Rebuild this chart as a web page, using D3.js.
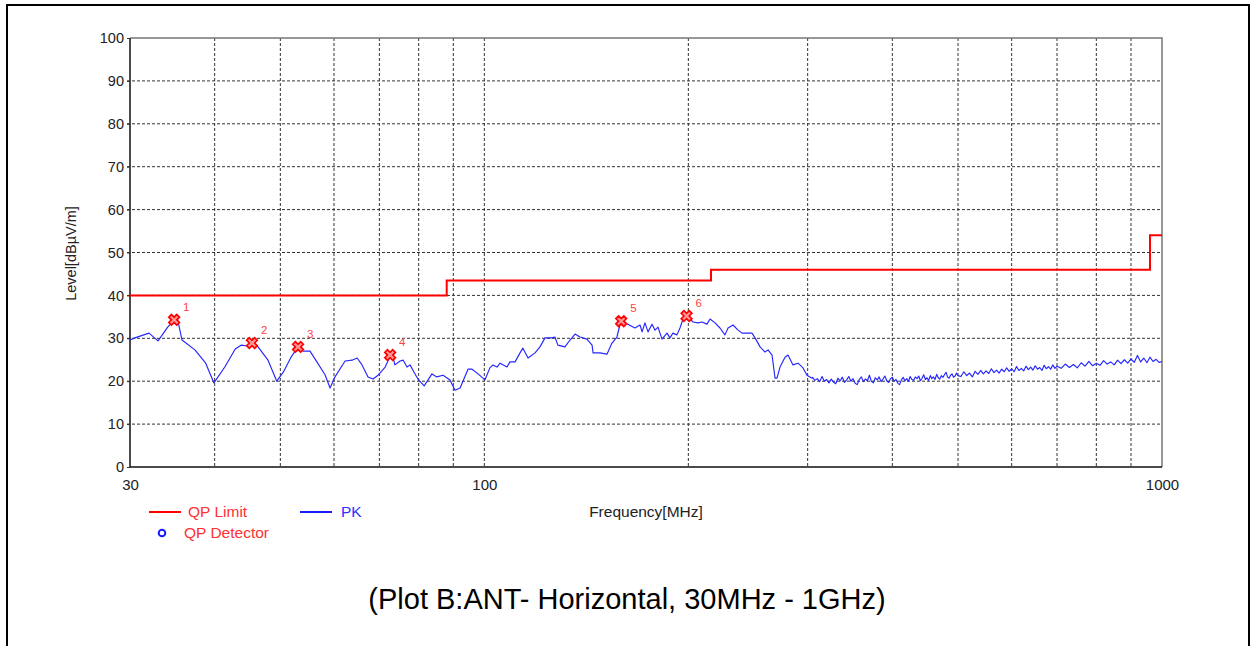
<!DOCTYPE html>
<html>
<head>
<meta charset="utf-8">
<script src="https://cdn.jsdelivr.net/npm/d3@7"></script>
<style>
  body { margin: 0; background: #fff; }
  svg { display: block; font-family: Arial, "Liberation Sans", sans-serif; }
</style>
</head>
<body>
<div id="chart"></div>
<script>
// QP limit steps [start MHz, end MHz, level dBuV/m]
const limitSteps = [
  [30, 88, 40],
  [88, 216, 43.5],
  [216, 960, 46],
  [960, 1000, 54],
];

// peak trace, [MHz, dBuV/m]
const pkTrace = [
  [30.0, 29.6], [30.5, 30.1], [32.0, 31.2], [33.0, 29.4], [34.1, 32.6], [34.9, 34.3], [35.2, 35.0],
  [35.8, 29.6], [37.4, 27.3], [38.8, 24.2], [39.9, 19.6], [41.4, 23.3], [42.9, 27.5], [43.75, 28.4],
  [44.8, 28.2], [45.6, 28.9], [46.35, 28.0], [47.95, 24.9], [49.4, 20.0], [50.5, 22.1], [51.85, 25.6],
  [53.1, 28.0], [54.0, 27.0], [55.3, 27.0], [56.4, 24.9], [58.2, 21.5], [59.2, 18.4], [60.2, 21.0],
  [62.3, 24.7], [63.8, 24.9], [64.9, 25.4], [66.0, 23.8], [67.35, 21.0], [68.5, 20.5], [69.7, 21.4],
  [71.4, 23.3], [72.6, 25.8], [73.1, 26.4], [73.8, 23.8], [75.1, 24.7], [75.9, 24.9], [76.9, 23.3],
  [77.7, 23.8], [78.75, 22.1], [79.8, 20.5], [81.5, 18.9], [83.7, 21.7], [85.1, 21.0], [86.9, 21.4],
  [89.0, 20.3], [90.5, 17.9], [92.1, 18.4], [94.6, 22.8], [95.9, 22.8], [97.9, 21.7], [100.2, 20.3],
  [101.9, 23.1], [103.0, 23.8], [104.4, 23.3], [105.5, 24.2], [108.0, 23.3], [109.1, 24.5], [111.0, 24.5],
  [112.9, 26.6], [114.0, 27.7], [116.0, 25.4], [118.8, 26.6], [120.8, 28.0], [122.9, 30.1], [125.8, 30.1],
  [127.1, 30.3], [128.4, 28.4], [131.5, 28.0], [133.8, 29.6], [136.1, 31.0], [138.4, 30.3], [141.7, 29.8],
  [144.2, 28.4], [144.7, 26.6], [148.1, 26.6], [151.7, 26.3], [154.3, 28.9], [156.9, 30.3], [158.5, 33.1],
  [159.6, 34.0], [162.9, 33.3], [166.8, 32.4], [169.7, 33.1], [170.9, 31.5], [172.6, 33.6], [174.4, 31.5],
  [176.8, 33.3], [178.6, 31.9], [180.4, 32.6], [182.9, 29.8], [186.0, 31.2], [187.9, 30.1], [189.8, 31.2],
  [192.4, 30.8], [194.4, 32.4], [196.4, 34.5], [199.1, 35.2], [201.1, 34.5], [203.2, 33.8], [206.7, 33.6],
  [209.5, 33.8], [213.1, 33.3], [215.3, 34.5], [219.0, 33.6], [222.7, 32.4], [226.5, 30.8], [228.9, 32.4],
  [232.8, 33.1], [236.8, 31.9], [240.0, 31.2], [248.3, 31.2], [250.9, 30.1], [255.2, 28.0], [259.5, 26.8],
  [262.2, 27.3], [265.8, 26.1], [268.5, 20.7], [270.3, 20.7], [273.1, 23.3], [277.8, 25.6], [280.6, 26.1],
  [285.4, 23.8], [290.3, 24.2], [295.3, 23.1], [299.3, 21.4], [304.5, 20.7],
  [305, 20.9], [307.5, 20.2], [310, 20.6], [312.5, 19.9], [315, 21.1], [317.5, 20.0], [320, 20.4], [322.5, 19.6],
  [325, 20.5], [327.5, 19.8], [330, 19.4], [332.5, 20.7], [335, 20.1], [337.5, 20.9], [340, 19.7], [342.5, 20.3],
  [345, 21.1], [347.5, 20.0], [350, 20.6], [352.5, 19.5], [355, 19.2], [357.5, 20.4], [360, 21.0], [362.5, 19.9],
  [365, 20.5], [367.5, 20.1], [370, 21.4], [372.5, 20.0], [375, 19.6], [377.5, 20.8], [380, 20.3], [382.5, 21.0],
  [385, 19.9], [387.5, 20.5], [390, 21.2], [392.5, 20.1], [395, 19.7], [397.5, 20.6], [400, 20.9], [402.5, 20.0],
  [405, 20.4], [407.5, 19.5], [410, 19.2], [412.5, 20.3], [415, 20.9], [417.5, 20.1], [420, 20.6], [422.5, 20.0],
  [425, 21.1], [427.5, 20.4], [430, 20.2], [432.5, 21.0], [435, 20.6], [437.5, 21.2], [440, 20.1], [442.5, 20.7],
  [445, 21.5], [447.5, 20.4], [450, 20.8], [452.5, 20.2], [455, 21.3], [457.5, 20.6], [460, 21.0], [462.5, 20.4],
  [465, 21.6], [467.5, 20.8], [470, 20.5], [472.5, 21.3], [475, 20.9], [477.5, 21.5], [480, 22.1], [482.5, 21.0],
  [485, 20.7], [487.5, 21.4], [490, 21.7], [492.5, 20.9], [495, 21.2], [497.5, 21.9], [500, 21.3],
  [505, 21.1], [510, 22.2], [515, 21.3], [520, 21.9], [525, 21.0], [530, 22.3], [535, 21.6], [540, 22.5],
  [545, 21.7], [550, 22.4], [555, 21.8], [560, 22.9], [565, 22.0], [570, 22.6], [575, 21.9], [580, 22.8],
  [585, 22.2], [590, 23.1], [595, 22.3], [600, 22.9], [605, 22.2], [610, 23.4], [615, 22.5], [620, 23.0],
  [625, 22.4], [630, 23.5], [635, 22.7], [640, 23.3], [645, 22.6], [650, 23.6], [655, 22.8], [660, 23.2],
  [665, 22.5], [670, 23.7], [675, 22.9], [680, 23.4], [685, 22.8], [690, 23.8], [695, 23.0], [700, 23.5],
  [710, 23.0], [720, 24.0], [730, 23.2], [740, 23.9], [750, 23.1], [760, 24.3], [770, 23.5], [780, 24.6],
  [790, 23.6], [800, 24.2], [810, 23.7], [820, 24.8], [830, 24.0], [840, 24.5], [850, 23.8], [860, 24.9],
  [870, 24.1], [880, 25.0], [890, 24.2], [900, 25.2], [910, 24.4], [920, 26.0], [930, 24.5], [940, 25.4],
  [950, 24.3], [960, 25.6], [970, 24.6], [980, 25.1], [990, 24.4], [1000, 24.6],
];

// QP detector markers [MHz, dBuV/m]
const markerFreqs = [34.85, 45.4, 53.1, 72.6, 159.2, 198.8];
const markerLevels = [34.3, 28.9, 28.0, 26.1, 34.0, 35.2];

const yTicks = [0, 10, 20, 30, 40, 50, 60, 70, 80, 90, 100];
const xGrid = [40, 50, 60, 70, 80, 90, 100, 200, 300, 400, 500, 600, 700, 800, 900];
const xLabels = [30, 100, 1000];

const width = 1250, height = 646;
const m = { left: 130, right: 1162, top: 38, bottom: 467 };

const svg = d3.select("#chart").append("svg")
  .attr("width", width)
  .attr("height", height);

// outer frame
svg.append("path")
  .attr("d", `M7,${height + 2}V5H1249V${height + 2}`)
  .attr("fill", "none")
  .attr("stroke", "#000")
  .attr("stroke-width", 2);

const x = d3.scaleLog().domain([30, 1000]).range([m.left, m.right]);
const y = d3.scaleLinear().domain([0, 100]).range([m.bottom, m.top]);

// grid
const grid = svg.append("g");
grid.selectAll("line.h")
  .data(yTicks.filter(d => d > 0 && d < 100))
  .join("line")
  .attr("x1", m.left - 3).attr("x2", m.right)
  .attr("y1", d => y(d)).attr("y2", d => y(d))
  .attr("stroke", "#333").attr("stroke-width", 1)
  .attr("stroke-dasharray", "3,2");
grid.selectAll("line.v")
  .data(xGrid)
  .join("line")
  .attr("x1", d => x(d)).attr("x2", d => x(d))
  .attr("y1", m.top).attr("y2", m.bottom)
  .attr("stroke", "#333").attr("stroke-width", 1)
  .attr("stroke-dasharray", "3,2");

// frame: top/right grey, left/bottom black
svg.append("path")
  .attr("d", `M${m.left},${m.top}H${m.right}V${m.bottom}`)
  .attr("fill", "none").attr("stroke", "#777").attr("stroke-width", 1.5);
svg.append("path")
  .attr("d", `M${m.left},${m.top}V${m.bottom}H${m.right}`)
  .attr("fill", "none").attr("stroke", "#111").attr("stroke-width", 1.5);

// y axis labels
svg.append("g")
  .attr("transform", `translate(${m.left},0)`)
  .call(d3.axisLeft(y).tickValues(yTicks).tickSize(3).tickPadding(3))
  .call(g => g.select(".domain").remove())
  .call(g => g.selectAll(".tick line").attr("stroke", "#333"))
  .call(g => g.selectAll(".tick text")
    .attr("font-size", 14.5).attr("fill", "#222")
    .attr("font-family", "Arial, 'Liberation Sans', sans-serif"));

// x axis labels
svg.append("g")
  .attr("transform", `translate(0,${m.bottom})`)
  .call(d3.axisBottom(x).tickValues(xLabels).tickFormat(d3.format("d")).tickSize(0).tickPadding(12))
  .call(g => g.select(".domain").remove())
  .call(g => g.selectAll(".tick text")
    .attr("font-size", 15).attr("fill", "#222")
    .attr("font-family", "Arial, 'Liberation Sans', sans-serif"));

svg.append("text")
  .attr("transform", `translate(76,${(m.top + m.bottom) / 2 + 1}) rotate(-90)`)
  .attr("text-anchor", "middle")
  .attr("font-size", 14.5).attr("fill", "#222")
  .text("Level[dBµV/m]");

svg.append("text")
  .attr("x", 646).attr("y", 517)
  .attr("text-anchor", "middle")
  .attr("font-size", 15.5).attr("fill", "#222")
  .text("Frequency[MHz]");

// limit line (step)
const limitPts = [];
limitSteps.forEach(s => { limitPts.push([s[0], s[2]]); limitPts.push([s[1], s[2]]); });
svg.append("path")
  .datum(limitPts)
  .attr("d", d3.line().x(d => x(d[0])).y(d => y(d[1])))
  .attr("fill", "none")
  .attr("stroke", "#ff0000")
  .attr("stroke-width", 2);

// peak trace
svg.append("path")
  .datum(pkTrace)
  .attr("d", d3.line().x(d => x(d[0])).y(d => y(d[1])))
  .attr("fill", "none")
  .attr("stroke", "#2626ff")
  .attr("stroke-width", 1.15)
  .attr("stroke-linejoin", "round");

// markers
const markers = markerFreqs.map((f, i) => ({ f, v: markerLevels[i], n: i + 1 }));
const mk = svg.append("g").selectAll("g")
  .data(markers)
  .join("g")
  .attr("transform", d => `translate(${x(d.f)},${y(d.v)})`);
mk.append("path")
  .attr("d", d3.symbol(d3.symbolCross, 70)())
  .attr("transform", "rotate(45)")
  .attr("fill", "#ff9a9a")
  .attr("stroke", "#ff0000")
  .attr("stroke-width", 1.7);
mk.append("text")
  .attr("x", 9).attr("y", -9)
  .attr("font-size", 11.5)
  .attr("fill", "#ff4040")
  .text(d => d.n);

// legend
const lg = svg.append("g");
lg.append("line").attr("x1", 149).attr("x2", 181).attr("y1", 512).attr("y2", 512)
  .attr("stroke", "#ff0000").attr("stroke-width", 2);
lg.append("text").attr("x", 188).attr("y", 517).attr("font-size", 15.5).attr("fill", "#ff3030").text("QP Limit");
lg.append("line").attr("x1", 300).attr("x2", 332).attr("y1", 512).attr("y2", 512)
  .attr("stroke", "#1a1aff").attr("stroke-width", 2);
lg.append("text").attr("x", 341).attr("y", 517).attr("font-size", 15.5).attr("fill", "#3030ff").text("PK");
lg.append("circle").attr("cx", 162).attr("cy", 533).attr("r", 3.3)
  .attr("fill", "none").attr("stroke", "#1a1aff").attr("stroke-width", 2);
lg.append("text").attr("x", 184).attr("y", 538).attr("font-size", 15.5).attr("fill", "#ff3030").text("QP Detector");

// caption
svg.append("text")
  .attr("x", 627).attr("y", 609)
  .attr("text-anchor", "middle")
  .attr("font-size", 29).attr("fill", "#000")
  .text("(Plot B:ANT- Horizontal, 30MHz - 1GHz)");
</script>
</body>
</html>
